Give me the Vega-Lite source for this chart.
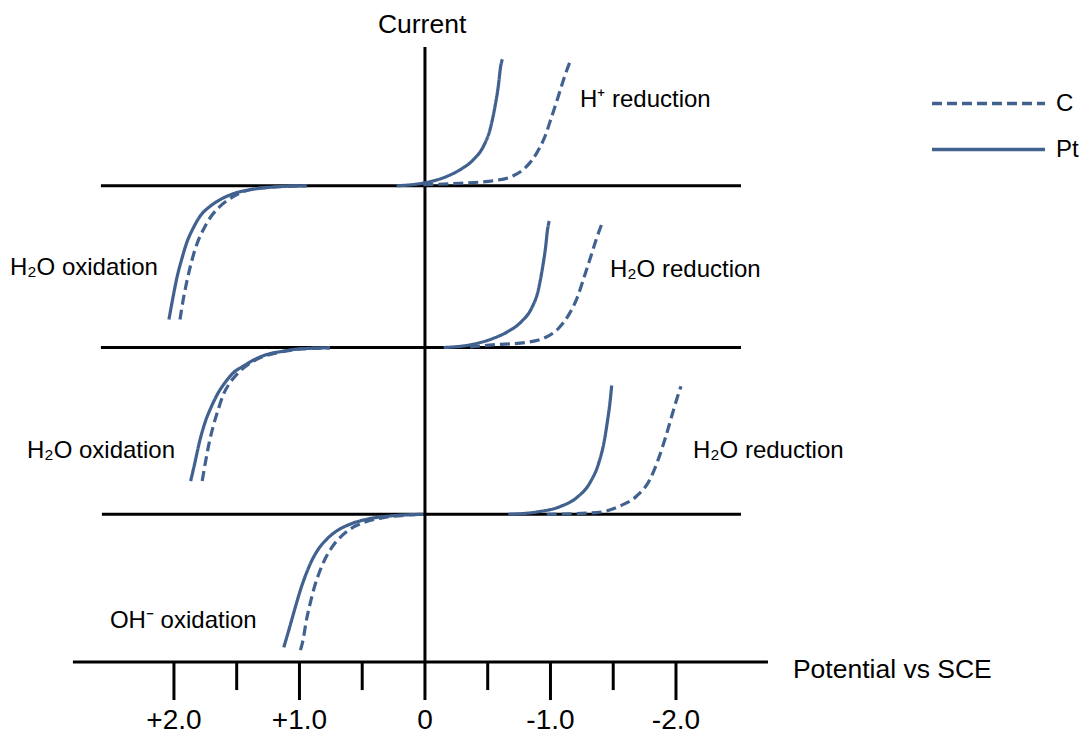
{
  "$schema": "https://vega.github.io/schema/vega-lite/v6.json",
  "width": 1086,
  "height": 735,
  "autosize": {"type": "fit", "contains": "padding"},
  "padding": 0,
  "background": "white",
  "config": {"view": {"stroke": null}, "font": "Liberation Sans"},
  "datasets": {
    "hlines": [
      {"line": "potential axis", "from": 2.805, "to": -2.733, "current": 0},
      {"line": "baseline 1", "from": 2.582, "to": -2.518, "current": 477},
      {"line": "baseline 2", "from": 2.582, "to": -2.518, "current": 315},
      {"line": "baseline 3", "from": 2.574, "to": -2.518, "current": 148}
    ],
    "vlines": [
      {"potential": 0, "top": 616, "bottom": -38},
      {"potential": 2, "top": 0, "bottom": -38},
      {"potential": 1.5, "top": 0, "bottom": -28},
      {"potential": 1, "top": 0, "bottom": -38},
      {"potential": 0.5, "top": 0, "bottom": -28},
      {"potential": -0.5, "top": 0, "bottom": -28},
      {"potential": -1, "top": 0, "bottom": -38},
      {"potential": -1.5, "top": 0, "bottom": -28},
      {"potential": -2, "top": 0, "bottom": -38}
    ],
    "curves": [
      {"curve": "p1 red Pt", "electrode": "Pt", "potential": 0.226, "current": 477},
      {"curve": "p1 red Pt", "electrode": "Pt", "potential": 0.013, "current": 479.7},
      {"curve": "p1 red Pt", "electrode": "Pt", "potential": -0.173, "current": 486.3},
      {"curve": "p1 red Pt", "electrode": "Pt", "potential": -0.279, "current": 493},
      {"curve": "p1 red Pt", "electrode": "Pt", "potential": -0.385, "current": 503},
      {"curve": "p1 red Pt", "electrode": "Pt", "potential": -0.465, "current": 516.3},
      {"curve": "p1 red Pt", "electrode": "Pt", "potential": -0.518, "current": 533},
      {"curve": "p1 red Pt", "electrode": "Pt", "potential": -0.558, "current": 556.3},
      {"curve": "p1 red Pt", "electrode": "Pt", "potential": -0.584, "current": 576.3},
      {"curve": "p1 red Pt", "electrode": "Pt", "potential": -0.603, "current": 596.3},
      {"curve": "p1 red Pt", "electrode": "Pt", "potential": -0.616, "current": 603.7},

      {"curve": "p1 red C", "electrode": "C", "potential": 0.013, "current": 478},
      {"curve": "p1 red C", "electrode": "C", "potential": -0.279, "current": 479.5},
      {"curve": "p1 red C", "electrode": "C", "potential": -0.544, "current": 482},
      {"curve": "p1 red C", "electrode": "C", "potential": -0.704, "current": 487},
      {"curve": "p1 red C", "electrode": "C", "potential": -0.81, "current": 496.3},
      {"curve": "p1 red C", "electrode": "C", "potential": -0.89, "current": 509.7},
      {"curve": "p1 red C", "electrode": "C", "potential": -0.956, "current": 526.3},
      {"curve": "p1 red C", "electrode": "C", "potential": -1.01, "current": 546.3},
      {"curve": "p1 red C", "electrode": "C", "potential": -1.062, "current": 566.3},
      {"curve": "p1 red C", "electrode": "C", "potential": -1.108, "current": 584.7},
      {"curve": "p1 red C", "electrode": "C", "potential": -1.161, "current": 603},

      {"curve": "p1 ox Pt", "electrode": "Pt", "potential": 0.943, "current": 477},
      {"curve": "p1 ox Pt", "electrode": "Pt", "potential": 1.209, "current": 475.7},
      {"curve": "p1 ox Pt", "electrode": "Pt", "potential": 1.394, "current": 473},
      {"curve": "p1 ox Pt", "electrode": "Pt", "potential": 1.528, "current": 469},
      {"curve": "p1 ox Pt", "electrode": "Pt", "potential": 1.633, "current": 463},
      {"curve": "p1 ox Pt", "electrode": "Pt", "potential": 1.713, "current": 456.3},
      {"curve": "p1 ox Pt", "electrode": "Pt", "potential": 1.793, "current": 446.3},
      {"curve": "p1 ox Pt", "electrode": "Pt", "potential": 1.846, "current": 434.7},
      {"curve": "p1 ox Pt", "electrode": "Pt", "potential": 1.899, "current": 419.7},
      {"curve": "p1 ox Pt", "electrode": "Pt", "potential": 1.939, "current": 403},
      {"curve": "p1 ox Pt", "electrode": "Pt", "potential": 1.974, "current": 386.3},
      {"curve": "p1 ox Pt", "electrode": "Pt", "potential": 2.006, "current": 366.3},
      {"curve": "p1 ox Pt", "electrode": "Pt", "potential": 2.04, "current": 343},

      {"curve": "p1 ox C", "electrode": "C", "potential": 0.943, "current": 477},
      {"curve": "p1 ox C", "electrode": "C", "potential": 1.315, "current": 474.7},
      {"curve": "p1 ox C", "electrode": "C", "potential": 1.474, "current": 469.7},
      {"curve": "p1 ox C", "electrode": "C", "potential": 1.567, "current": 463},
      {"curve": "p1 ox C", "electrode": "C", "potential": 1.647, "current": 454.7},
      {"curve": "p1 ox C", "electrode": "C", "potential": 1.713, "current": 444.7},
      {"curve": "p1 ox C", "electrode": "C", "potential": 1.766, "current": 433},
      {"curve": "p1 ox C", "electrode": "C", "potential": 1.819, "current": 418},
      {"curve": "p1 ox C", "electrode": "C", "potential": 1.859, "current": 401.3},
      {"curve": "p1 ox C", "electrode": "C", "potential": 1.894, "current": 383},
      {"curve": "p1 ox C", "electrode": "C", "potential": 1.926, "current": 363},
      {"curve": "p1 ox C", "electrode": "C", "potential": 1.952, "current": 343},

      {"curve": "p2 ox Pt", "electrode": "Pt", "potential": 0.757, "current": 314.7},
      {"curve": "p2 ox Pt", "electrode": "Pt", "potential": 0.996, "current": 313.7},
      {"curve": "p2 ox Pt", "electrode": "Pt", "potential": 1.129, "current": 311.3},
      {"curve": "p2 ox Pt", "electrode": "Pt", "potential": 1.261, "current": 308},
      {"curve": "p2 ox Pt", "electrode": "Pt", "potential": 1.368, "current": 302.3},
      {"curve": "p2 ox Pt", "electrode": "Pt", "potential": 1.448, "current": 296.3},
      {"curve": "p2 ox Pt", "electrode": "Pt", "potential": 1.527, "current": 289.7},
      {"curve": "p2 ox Pt", "electrode": "Pt", "potential": 1.594, "current": 279.7},
      {"curve": "p2 ox Pt", "electrode": "Pt", "potential": 1.647, "current": 269.7},
      {"curve": "p2 ox Pt", "electrode": "Pt", "potential": 1.7, "current": 256.3},
      {"curve": "p2 ox Pt", "electrode": "Pt", "potential": 1.753, "current": 239.7},
      {"curve": "p2 ox Pt", "electrode": "Pt", "potential": 1.798, "current": 219.7},
      {"curve": "p2 ox Pt", "electrode": "Pt", "potential": 1.833, "current": 199.7},
      {"curve": "p2 ox Pt", "electrode": "Pt", "potential": 1.867, "current": 181.3},

      {"curve": "p2 ox C", "electrode": "C", "potential": 0.757, "current": 314.7},
      {"curve": "p2 ox C", "electrode": "C", "potential": 1.022, "current": 313},
      {"curve": "p2 ox C", "electrode": "C", "potential": 1.182, "current": 309.7},
      {"curve": "p2 ox C", "electrode": "C", "potential": 1.315, "current": 304.7},
      {"curve": "p2 ox C", "electrode": "C", "potential": 1.408, "current": 298},
      {"curve": "p2 ox C", "electrode": "C", "potential": 1.488, "current": 289.7},
      {"curve": "p2 ox C", "electrode": "C", "potential": 1.554, "current": 279.7},
      {"curve": "p2 ox C", "electrode": "C", "potential": 1.606, "current": 268},
      {"curve": "p2 ox C", "electrode": "C", "potential": 1.647, "current": 253},
      {"curve": "p2 ox C", "electrode": "C", "potential": 1.687, "current": 236.3},
      {"curve": "p2 ox C", "electrode": "C", "potential": 1.719, "current": 219.7},
      {"curve": "p2 ox C", "electrode": "C", "potential": 1.745, "current": 203},
      {"curve": "p2 ox C", "electrode": "C", "potential": 1.775, "current": 181.3},

      {"curve": "p2 red Pt", "electrode": "Pt", "potential": -0.149, "current": 315},
      {"curve": "p2 red Pt", "electrode": "Pt", "potential": -0.361, "current": 317.7},
      {"curve": "p2 red Pt", "electrode": "Pt", "potential": -0.547, "current": 324.3},
      {"curve": "p2 red Pt", "electrode": "Pt", "potential": -0.661, "current": 331},
      {"curve": "p2 red Pt", "electrode": "Pt", "potential": -0.769, "current": 341},
      {"curve": "p2 red Pt", "electrode": "Pt", "potential": -0.849, "current": 354.3},
      {"curve": "p2 red Pt", "electrode": "Pt", "potential": -0.9, "current": 371},
      {"curve": "p2 red Pt", "electrode": "Pt", "potential": -0.936, "current": 394.3},
      {"curve": "p2 red Pt", "electrode": "Pt", "potential": -0.96, "current": 414.3},
      {"curve": "p2 red Pt", "electrode": "Pt", "potential": -0.978, "current": 434.3},
      {"curve": "p2 red Pt", "electrode": "Pt", "potential": -0.99, "current": 441.7},

      {"curve": "p2 red C", "electrode": "C", "potential": -0.359, "current": 315.5},
      {"curve": "p2 red C", "electrode": "C", "potential": -0.534, "current": 317.7},
      {"curve": "p2 red C", "electrode": "C", "potential": -0.799, "current": 320},
      {"curve": "p2 red C", "electrode": "C", "potential": -0.959, "current": 325},
      {"curve": "p2 red C", "electrode": "C", "potential": -1.065, "current": 334.3},
      {"curve": "p2 red C", "electrode": "C", "potential": -1.145, "current": 347.7},
      {"curve": "p2 red C", "electrode": "C", "potential": -1.211, "current": 364.3},
      {"curve": "p2 red C", "electrode": "C", "potential": -1.265, "current": 384.3},
      {"curve": "p2 red C", "electrode": "C", "potential": -1.317, "current": 404.3},
      {"curve": "p2 red C", "electrode": "C", "potential": -1.363, "current": 422.7},
      {"curve": "p2 red C", "electrode": "C", "potential": -1.416, "current": 441},

      {"curve": "p3 red Pt", "electrode": "Pt", "potential": -0.664, "current": 148},
      {"curve": "p3 red Pt", "electrode": "Pt", "potential": -0.89, "current": 150.3},
      {"curve": "p3 red Pt", "electrode": "Pt", "potential": -1.076, "current": 155.7},
      {"curve": "p3 red Pt", "electrode": "Pt", "potential": -1.209, "current": 164.7},
      {"curve": "p3 red Pt", "electrode": "Pt", "potential": -1.315, "current": 179.7},
      {"curve": "p3 red Pt", "electrode": "Pt", "potential": -1.381, "current": 198},
      {"curve": "p3 red Pt", "electrode": "Pt", "potential": -1.426, "current": 219.7},
      {"curve": "p3 red Pt", "electrode": "Pt", "potential": -1.456, "current": 243},
      {"curve": "p3 red Pt", "electrode": "Pt", "potential": -1.474, "current": 259.7},
      {"curve": "p3 red Pt", "electrode": "Pt", "potential": -1.488, "current": 277},

      {"curve": "p3 red C", "electrode": "C", "potential": -0.97, "current": 148},
      {"curve": "p3 red C", "electrode": "C", "potential": -1.368, "current": 149.7},
      {"curve": "p3 red C", "electrode": "C", "potential": -1.554, "current": 156.3},
      {"curve": "p3 red C", "electrode": "C", "potential": -1.687, "current": 166.3},
      {"curve": "p3 red C", "electrode": "C", "potential": -1.793, "current": 183},
      {"curve": "p3 red C", "electrode": "C", "potential": -1.859, "current": 203},
      {"curve": "p3 red C", "electrode": "C", "potential": -1.92, "current": 226.3},
      {"curve": "p3 red C", "electrode": "C", "potential": -1.974, "current": 249.7},
      {"curve": "p3 red C", "electrode": "C", "potential": -2.01, "current": 264.7},
      {"curve": "p3 red C", "electrode": "C", "potential": -2.04, "current": 276.3},

      {"curve": "p3 ox Pt", "electrode": "Pt", "potential": 0.013, "current": 148},
      {"curve": "p3 ox Pt", "electrode": "Pt", "potential": 0.279, "current": 146.3},
      {"curve": "p3 ox Pt", "electrode": "Pt", "potential": 0.465, "current": 143},
      {"curve": "p3 ox Pt", "electrode": "Pt", "potential": 0.598, "current": 138},
      {"curve": "p3 ox Pt", "electrode": "Pt", "potential": 0.704, "current": 131.3},
      {"curve": "p3 ox Pt", "electrode": "Pt", "potential": 0.783, "current": 123},
      {"curve": "p3 ox Pt", "electrode": "Pt", "potential": 0.85, "current": 113},
      {"curve": "p3 ox Pt", "electrode": "Pt", "potential": 0.903, "current": 101.3},
      {"curve": "p3 ox Pt", "electrode": "Pt", "potential": 0.948, "current": 88},
      {"curve": "p3 ox Pt", "electrode": "Pt", "potential": 0.99, "current": 73},
      {"curve": "p3 ox Pt", "electrode": "Pt", "potential": 1.03, "current": 56.3},
      {"curve": "p3 ox Pt", "electrode": "Pt", "potential": 1.075, "current": 36.3},
      {"curve": "p3 ox Pt", "electrode": "Pt", "potential": 1.125, "current": 14.7},

      {"curve": "p3 ox C", "electrode": "C", "potential": 0.013, "current": 148},
      {"curve": "p3 ox C", "electrode": "C", "potential": 0.332, "current": 144.7},
      {"curve": "p3 ox C", "electrode": "C", "potential": 0.491, "current": 139.7},
      {"curve": "p3 ox C", "electrode": "C", "potential": 0.598, "current": 133},
      {"curve": "p3 ox C", "electrode": "C", "potential": 0.677, "current": 124.7},
      {"curve": "p3 ox C", "electrode": "C", "potential": 0.743, "current": 114.7},
      {"curve": "p3 ox C", "electrode": "C", "potential": 0.797, "current": 103},
      {"curve": "p3 ox C", "electrode": "C", "potential": 0.842, "current": 89.7},
      {"curve": "p3 ox C", "electrode": "C", "potential": 0.882, "current": 74.7},
      {"curve": "p3 ox C", "electrode": "C", "potential": 0.916, "current": 58},
      {"curve": "p3 ox C", "electrode": "C", "potential": 0.948, "current": 39.7},
      {"curve": "p3 ox C", "electrode": "C", "potential": 0.97, "current": 23},
      {"curve": "p3 ox C", "electrode": "C", "potential": 0.992, "current": 12}
    ],
    "annotations": [
      {"label": "H⁺ reduction", "potential": -1.235, "current": 563},
      {"label": "H₂O oxidation", "potential": 3.307, "current": 395},
      {"label": "H₂O reduction", "potential": -1.474, "current": 393},
      {"label": "H₂O oxidation", "potential": 3.171, "current": 211},
      {"label": "H₂O reduction", "potential": -2.135, "current": 211},
      {"label": "OH⁻ oxidation", "potential": 2.51, "current": 41}
    ],
    "titles": [
      {"label": "Current", "potential": 0.375, "current": 638},
      {"label": "Potential vs SCE", "potential": -2.932, "current": -8}
    ],
    "ticklabels": [
      {"label": "+2.0", "potential": 2, "current": -59},
      {"label": "+1.0", "potential": 1, "current": -59},
      {"label": "0", "potential": 0, "current": -59},
      {"label": "-1.0", "potential": -1, "current": -59},
      {"label": "-2.0", "potential": -2, "current": -59}
    ]
  },
  "layer": [
    {
      "data": {"name": "hlines"},
      "mark": {"type": "rule", "color": "black", "strokeWidth": 3},
      "encoding": {
        "x": {"field": "from", "type": "quantitative", "scale": {"domain": [3.386, -5.267], "nice": false, "zero": false}, "axis": null},
        "x2": {"field": "to"},
        "y": {"field": "current", "type": "quantitative", "scale": {"domain": [-72, 663], "nice": false, "zero": false}, "axis": null}
      }
    },
    {
      "data": {"name": "vlines"},
      "mark": {"type": "rule", "color": "black", "strokeWidth": 3},
      "encoding": {
        "x": {"field": "potential", "type": "quantitative", "scale": {"domain": [3.386, -5.267], "nice": false, "zero": false}, "axis": null},
        "y": {"field": "top", "type": "quantitative", "scale": {"domain": [-72, 663], "nice": false, "zero": false}, "axis": null},
        "y2": {"field": "bottom"}
      }
    },
    {
      "data": {"name": "curves"},
      "mark": {"type": "line", "color": "#41618f", "strokeWidth": 3.2, "interpolate": "monotone"},
      "encoding": {
        "x": {"field": "potential", "type": "quantitative", "scale": {"domain": [3.386, -5.267], "nice": false, "zero": false}, "axis": null},
        "y": {"field": "current", "type": "quantitative", "scale": {"domain": [-72, 663], "nice": false, "zero": false}, "axis": null},
        "detail": {"field": "curve", "type": "nominal"},
        "strokeDash": {
          "field": "electrode", "type": "nominal",
          "scale": {"domain": ["C", "Pt"], "range": [[10, 5], [1, 0]]},
          "legend": {
            "orient": "none", "legendX": 975, "legendY": 90, "title": null,
            "symbolType": "M-5,0L5,0", "symbolSize": 511, "symbolStrokeWidth": 3.5,
            "symbolStrokeColor": "#41618f", "symbolFillColor": "transparent",
            "labelFontSize": 24, "labelFont": "Liberation Sans", "labelColor": "black",
            "labelOffset": 54, "rowPadding": 20, "padding": 0
          }
        }
      }
    },
    {
      "data": {"name": "annotations"},
      "mark": {"type": "text", "align": "left", "baseline": "middle", "fontSize": 24, "font": "Liberation Sans", "color": "black"},
      "encoding": {
        "x": {"field": "potential", "type": "quantitative", "scale": {"domain": [3.386, -5.267], "nice": false, "zero": false}, "axis": null},
        "y": {"field": "current", "type": "quantitative", "scale": {"domain": [-72, 663], "nice": false, "zero": false}, "axis": null},
        "text": {"field": "label"}
      }
    },
    {
      "data": {"name": "titles"},
      "mark": {"type": "text", "align": "left", "baseline": "middle", "fontSize": 26.5, "font": "Liberation Sans", "color": "black"},
      "encoding": {
        "x": {"field": "potential", "type": "quantitative", "scale": {"domain": [3.386, -5.267], "nice": false, "zero": false}, "axis": null},
        "y": {"field": "current", "type": "quantitative", "scale": {"domain": [-72, 663], "nice": false, "zero": false}, "axis": null},
        "text": {"field": "label"}
      }
    },
    {
      "data": {"name": "ticklabels"},
      "mark": {"type": "text", "align": "center", "baseline": "middle", "fontSize": 28, "font": "Liberation Sans", "color": "black"},
      "encoding": {
        "x": {"field": "potential", "type": "quantitative", "scale": {"domain": [3.386, -5.267], "nice": false, "zero": false}, "axis": null},
        "y": {"field": "current", "type": "quantitative", "scale": {"domain": [-72, 663], "nice": false, "zero": false}, "axis": null},
        "text": {"field": "label"}
      }
    }
  ]
}
